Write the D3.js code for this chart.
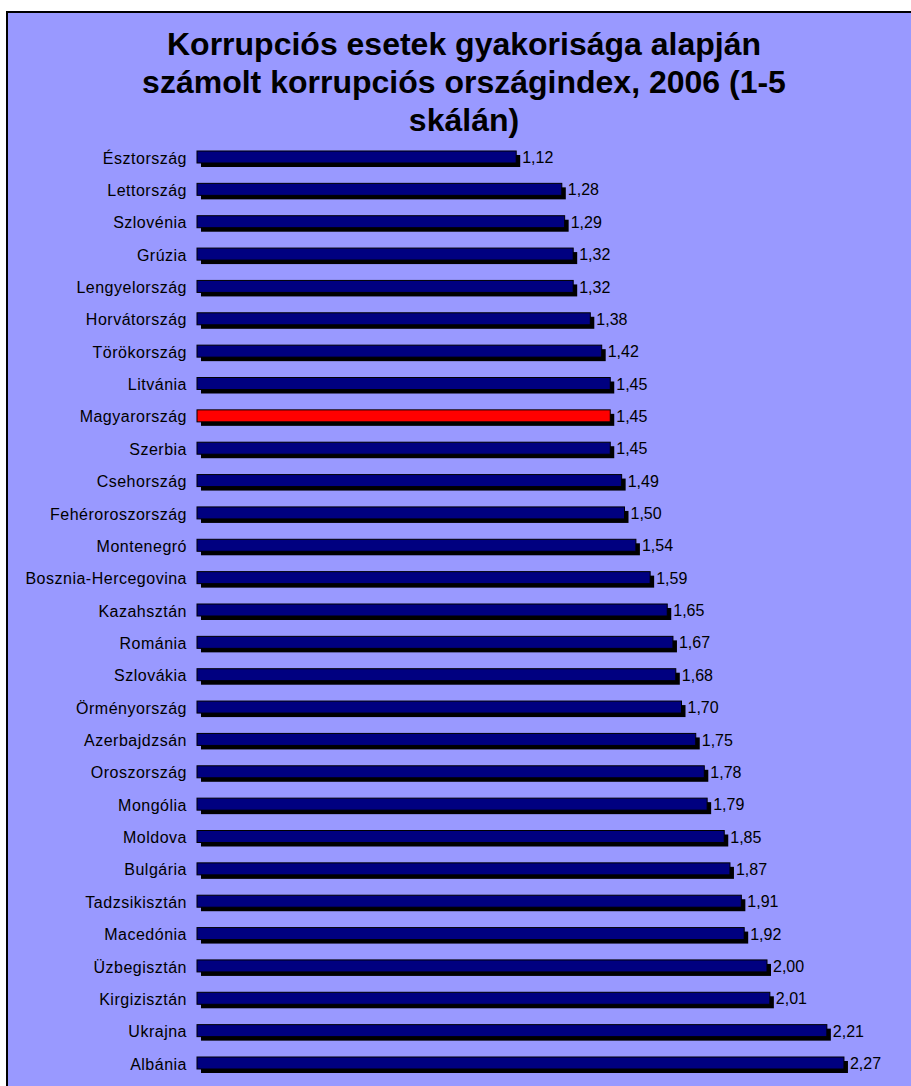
<!DOCTYPE html>
<html>
<head>
<meta charset="utf-8">
<script src="https://cdn.jsdelivr.net/npm/d3@7"></script>
<style>
html,body{margin:0;padding:0;background:#fff;}
svg{display:block;}
</style>
</head>
<body>
<svg id="chart" width="911" height="1086"></svg>
<script>
const titleLines = ["Korrupciós esetek gyakorisága alapján", "számolt korrupciós országindex, 2006 (1-5", "skálán)"];
const countries = ["Észtország","Lettország","Szlovénia","Grúzia","Lengyelország","Horvátország","Törökország","Litvánia","Magyarország","Szerbia","Csehország","Fehéroroszország","Montenegró","Bosznia-Hercegovina","Kazahsztán","Románia","Szlovákia","Örményország","Azerbajdzsán","Oroszország","Mongólia","Moldova","Bulgária","Tadzsikisztán","Macedónia","Üzbegisztán","Kirgizisztán","Ukrajna","Albánia"];
const values = [1.12,1.28,1.29,1.32,1.32,1.38,1.42,1.45,1.45,1.45,1.49,1.50,1.54,1.59,1.65,1.67,1.68,1.70,1.75,1.78,1.79,1.85,1.87,1.91,1.92,2.00,2.01,2.21,2.27];
const highlight = "Magyarország";

const data = countries.map((c, i) => ({country: c, value: values[i]}));
const svg = d3.select("#chart");
const FONT = "Arial, 'Liberation Sans', sans-serif";

// chart area
svg.append("rect").attr("x", 7).attr("y", 12).attr("width", 915).attr("height", 1090)
  .attr("fill", "#9999FF").attr("stroke", "#000").attr("stroke-width", 2);

// title
svg.append("g").selectAll("text").data(titleLines).join("text")
  .attr("x", 464).attr("y", (d, i) => 55 + i * 38)
  .attr("text-anchor", "middle")
  .attr("font-family", FONT)
  .attr("font-weight", "bold").attr("font-size", 32).attr("fill", "#000")
  .text(d => d);

const x = d3.scaleLinear().domain([0, 2.5]).range([197, 197 + 2.5 * 285]);
const y = d3.scalePoint().domain(countries).range([157, 1063]);
const bh = 12;
const fmt = d3.format(".2f");

const g = svg.append("g");
// shadows
g.selectAll("rect.sh").data(data).join("rect").attr("class", "sh")
  .attr("x", x(0) + 4).attr("y", d => y(d.country) - bh / 2 + 4)
  .attr("width", d => x(d.value) - x(0)).attr("height", bh)
  .attr("fill", "#000");
// bars
g.selectAll("rect.bar").data(data).join("rect").attr("class", "bar")
  .attr("x", x(0)).attr("y", d => y(d.country) - bh / 2)
  .attr("width", d => x(d.value) - x(0)).attr("height", bh)
  .attr("fill", d => d.country === highlight ? "#FF0000" : "#000080")
  .attr("stroke", "#000").attr("stroke-width", 1);

// category labels
const yAxis = d3.axisLeft(y).tickSize(0).tickPadding(0);
const ax = svg.append("g").attr("transform", "translate(187,0)").call(yAxis);
ax.select(".domain").remove();
ax.selectAll("text").attr("font-family", FONT)
  .attr("font-size", 16).attr("letter-spacing", "0.5px")
  .attr("fill", "#000").attr("dy", "0.38em");

// value labels
g.selectAll("text.val").data(data).join("text").attr("class", "val")
  .attr("x", d => x(d.value) + 6).attr("y", d => y(d.country))
  .attr("dy", "0.38em")
  .attr("font-family", FONT)
  .attr("font-size", 16).attr("fill", "#000")
  .text(d => fmt(d.value).replace(".", ","));
</script>
</body>
</html>
